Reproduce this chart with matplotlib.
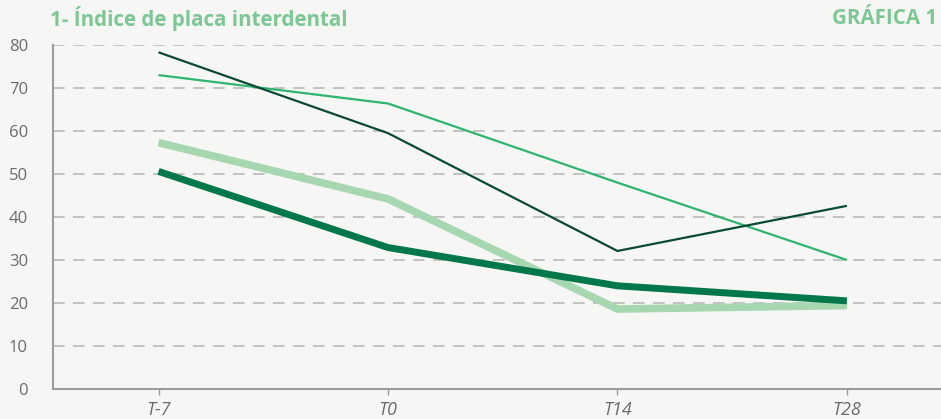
import matplotlib
matplotlib.use("Agg")
import matplotlib.pyplot as plt

categories = ["T-7", "T0", "T14", "T28"]
dark_thin = [78.3, 59.5, 32.1, 42.6]
mid_thin = [73.0, 66.4, 48.0, 30.0]
light_thick = [57.3, 44.2, 18.6, 19.4]
dark_thick = [50.6, 32.9, 24.0, 20.5]
yticks = [0, 10, 20, 30, 40, 50, 60, 70, 80]

plt.rcParams['font.family'] = ['Open Sans', 'DejaVu Sans']
bg = "#f6f6f4"
fig = plt.figure(figsize=(9.41, 4.19), dpi=100, facecolor=bg)
ax = fig.add_axes([0.0563, 0.0716, 0.9437, 0.821], facecolor=bg)

x = list(range(len(categories)))
ax.plot(x, light_thick, color="#a6d7b1", lw=5.5, solid_capstyle="butt", solid_joinstyle="round", zorder=3)
ax.plot(x, dark_thick, color="#00784a", lw=5.0, solid_capstyle="butt", solid_joinstyle="round", zorder=4)
ax.plot(x, mid_thin, color="#2eb56f", lw=1.6, solid_capstyle="butt", zorder=5)
ax.plot(x, dark_thin, color="#0b4a32", lw=1.6, solid_capstyle="butt", zorder=6)

ax.set_ylim(0, 80)
ax.set_xlim(-0.46, 3.41)
ax.set_yticks(yticks)
ax.set_yticklabels([str(v) for v in yticks])
ax.set_xticks(x)
ax.set_xticklabels(categories, fontstyle="italic")
for yv in yticks[1:]:
    ax.axhline(yv, color="#b9b9b9", lw=1.2, ls=(0, (7, 5)), zorder=1)

for s in ["top", "right"]:
    ax.spines[s].set_visible(False)
for s in ["left", "bottom"]:
    ax.spines[s].set_color("#9c9c9c")
    ax.spines[s].set_linewidth(1.5)
ax.tick_params(axis="y", length=0, pad=18, labelsize=12, labelcolor="#6b6b6b")
ax.tick_params(axis="x", length=4, width=1, color="#9c9c9c", pad=5, labelsize=13, labelcolor="#6b6b6b")

fig.text(0.053, 0.955, "1- Índice de placa interdental", color="#7dc795", fontsize=14.8, fontweight="bold", va="center", ha="left")
fig.text(0.996, 0.955, "GRÁFICA 1", color="#7dc795", fontsize=14.8, fontweight="bold", va="center", ha="right")

fig.savefig("out.png", dpi=100, facecolor=bg)
